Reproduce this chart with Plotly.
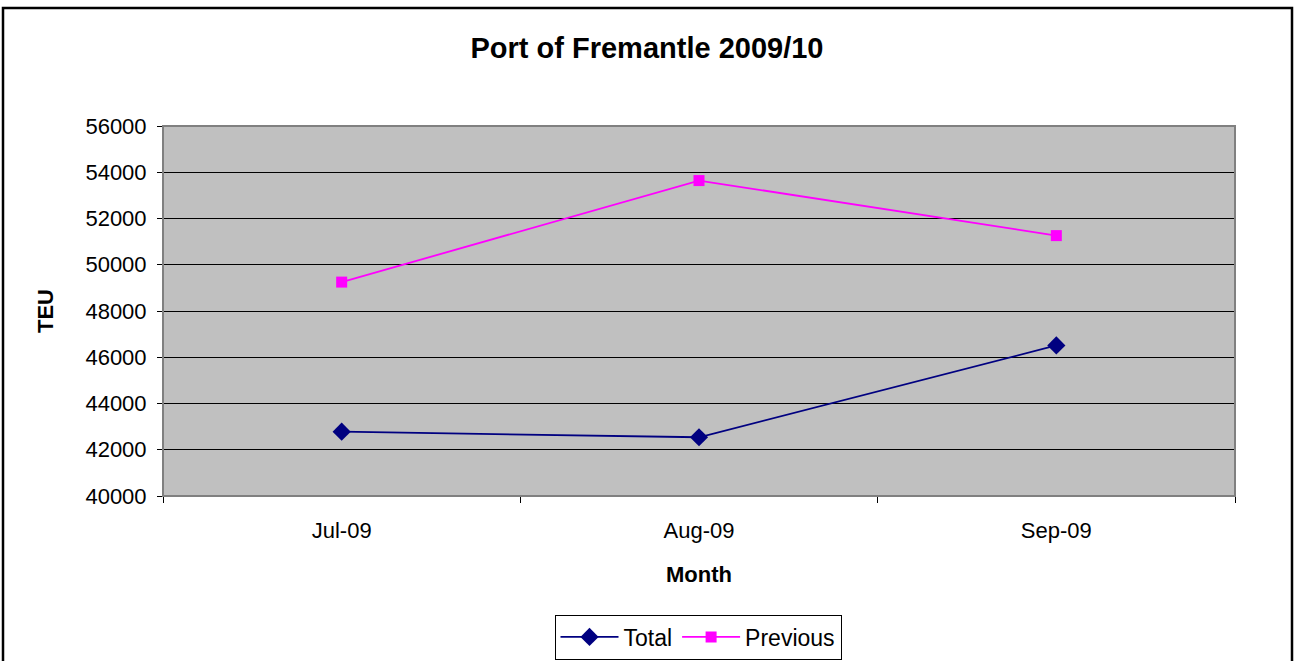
import plotly.graph_objects as go

months = ["Jul-09", "Aug-09", "Sep-09"]
total = [42780, 42540, 46510]
previous = [49250, 53640, 51260]
y_ticks = [40000, 42000, 44000, 46000, 48000, 50000, 52000, 54000, 56000]

W, H = 1294, 661
L, R, T, B = 163, 59, 126, 165
pw = W - L - R
ph = H - T - B
FONT = "Liberation Sans, Arial, sans-serif"


def px_x(px):
    return (px - L) / pw


def px_y(py):
    return (T + ph - py) / ph


fig = go.Figure()
fig.add_trace(go.Scatter(
    x=months, y=total, name="Total", mode="lines+markers",
    line=dict(color="#000080", width=1.8),
    marker=dict(symbol="diamond", size=14, color="#000080"),
))
fig.add_trace(go.Scatter(
    x=months, y=previous, name="Previous", mode="lines+markers",
    line=dict(color="#FF00FF", width=1.8),
    marker=dict(symbol="square", size=11, color="#FF00FF"),
))

# outer chart border
fig.add_shape(type="rect", xref="paper", yref="paper",
              x0=px_x(3), x1=px_x(1292), y0=px_y(680), y1=px_y(8),
              line=dict(color="black", width=2.5), fillcolor="rgba(0,0,0,0)", layer="below")
# plot area border (grey)
fig.add_shape(type="rect", xref="paper", yref="paper", x0=0, x1=1, y0=0, y1=1,
              line=dict(color="#808080", width=2), fillcolor="rgba(0,0,0,0)")

fig.update_layout(
    width=W, height=H,
    margin=dict(l=L, r=R, t=T, b=B, autoexpand=False),
    paper_bgcolor="white",
    plot_bgcolor="#C0C0C0",
    font=dict(family=FONT, size=22, color="black"),
    title=dict(text="<b>Port of Fremantle 2009/10</b>", x=0.5, xanchor="center",
               y=1 - 48 / H, yanchor="middle", yref="container",
               font=dict(family=FONT, size=29, color="black")),
    showlegend=True,
    legend=dict(orientation="h", x=px_x(698), xanchor="center",
                y=px_y(637), yanchor="middle",
                bordercolor="black", borderwidth=1, bgcolor="white",
                font=dict(family=FONT, size=23), itemwidth=58,
                tracegroupgap=0),
    xaxis=dict(
        type="category", range=[-0.5, 2.5], automargin=False,
        tickson="boundaries", ticks="outside", ticklen=6, tickcolor="black",
        showgrid=False, showline=True, linecolor="black", linewidth=1,
        tickfont=dict(family=FONT, size=22),
        title=dict(text="<b>Month</b>", font=dict(family=FONT, size=22), standoff=24),
        ticklabelstandoff=15,
    ),
    yaxis=dict(
        range=[40000, 56000], tickvals=y_ticks, ticktext=[str(v) for v in y_ticks],
        automargin=False,
        ticks="outside", ticklen=5, tickcolor="black",
        showgrid=True, gridcolor="black", gridwidth=1,
        showline=True, linecolor="black", linewidth=1,
        zeroline=False,
        tickfont=dict(family=FONT, size=22),
        ticklabelstandoff=6,
        title=dict(text="<b>TEU</b>", font=dict(family=FONT, size=22), standoff=25),
    ),
)

fig.write_html("out.html", config={"displayModeBar": False},
               post_script="document.body.style.margin='0';")
